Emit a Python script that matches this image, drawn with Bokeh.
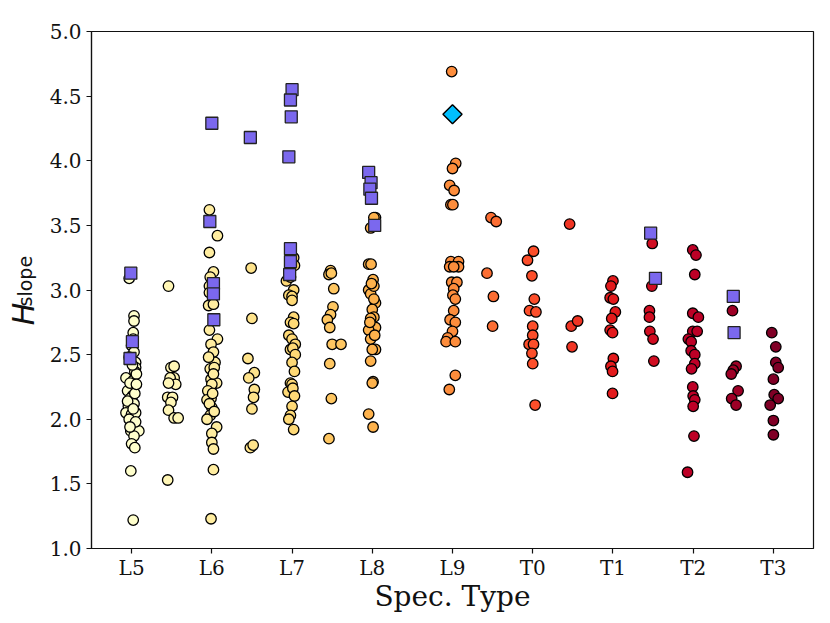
import numpy as np
from bokeh.plotting import figure
from bokeh.layouts import row
from bokeh.models import FixedTicker, PrintfTickFormatter, ColumnDataSource, Range1d
from bokeh.core.properties import value
from bokeh.embed import file_html
from bokeh.resources import INLINE

# ---------------- data ----------------
tick_pos = [0, 1, 2, 3, 4, 5, 6, 7, 8]
tick_labels = ["L5", "L6", "L7", "L8", "L9", "T0", "T1", "T2", "T3"]

# field objects (circles), x = spectral type (L5 = 0) with jitter, y = H_slope
l5_x = [-0.03, 0.03, 0.03, 0.02, 0.0, 0.03, 0.05, 0.05, 0.04, -0.07, 0.02, -0.01, -0.05, 0.01,
        -0.02, 0.03, -0.04, -0.07, 0.0, 0.05, 0.01, -0.01, 0.09, 0.03, 0.0, 0.04, -0.01, 0.02,
        0.02, -0.03, 0.06, -0.02, 0.04, -0.05, 0.02, -0.03, 0.05, -0.02, 0.01, 0.06]
l5_y = [3.09, 2.80, 2.76, 2.67, 2.57, 2.52, 2.44, 2.40, 2.37, 2.32, 2.30, 2.25, 2.22, 2.18,
        2.16, 2.12, 2.10, 2.05, 2.04, 2.05, 1.96, 1.91, 1.91, 1.87, 1.81, 1.78, 1.60, 1.22,
        2.62, 2.48, 2.35, 2.28, 2.20, 2.14, 2.08, 2.00, 1.98, 1.94, 2.42, 2.27]
l55_x = [0.46, 0.49, 0.53, 0.53, 0.48, 0.55, 0.46, 0.45, 0.51, 0.49, 0.46, 0.53, 0.58, 0.45]
l55_y = [3.03, 2.40, 2.41, 2.32, 2.32, 2.27, 2.28, 2.17, 2.17, 2.13, 2.07, 2.01, 2.01, 1.53]
l6_x = [0.97, 1.07, 0.97, 1.02, 0.98, 0.97, 0.97, 0.96, 1.02, 0.97, 1.07, 0.99, 1.02, 1.04,
        0.98, 1.03, 0.99, 1.06, 1.0, 0.95, 0.99, 0.94, 1.0, 0.98, 0.94, 1.06, 1.0, 1.0, 1.02,
        1.02, 0.99, 1.02, 0.97, 1.03, 0.96, 1.01]
l6_y = [3.62, 3.42, 3.29, 3.14, 3.10, 3.03, 2.98, 2.88, 2.89, 2.69, 2.62, 2.58, 2.52, 2.44,
        2.39, 2.40, 2.31, 2.28, 2.27, 2.22, 2.16, 2.15, 2.09, 2.03, 2.00, 1.94, 1.89, 1.82, 1.77,
        1.61, 1.23, 2.35, 2.12, 2.06, 2.48, 2.20]
l65_x = [1.49, 1.50, 1.45, 1.53, 1.46, 1.53, 1.52, 1.50, 1.48, 1.515]
l65_y = [3.17, 2.78, 2.47, 2.36, 2.32, 2.23, 2.17, 2.08, 1.78, 1.80]
l7_x = [2.02, 1.93, 2.02, 1.96, 2.0, 2.0, 2.02, 1.98, 2.02, 1.96, 2.0, 2.04, 1.98, 2.01, 2.04,
        2.0, 2.03, 1.98, 2.0, 1.95, 2.01, 2.03, 2.0, 1.98, 1.96, 2.02, 2.03, 1.98]
l7_y = [3.25, 3.07, 3.00, 2.96, 2.95, 2.92, 2.79, 2.75, 2.74, 2.65, 2.62, 2.58, 2.54, 2.55, 2.50,
        2.44, 2.37, 2.28, 2.27, 2.21, 2.24, 2.18, 2.10, 2.03, 2.00, 1.92, 3.19, 3.10]
l75_x = [2.48, 2.46, 2.49, 2.52, 2.51, 2.48, 2.44, 2.47, 2.50, 2.61, 2.47, 2.49, 2.46]
l75_y = [3.15, 3.12, 3.13, 3.01, 2.87, 2.81, 2.77, 2.71, 2.58, 2.58, 2.43, 2.16, 1.85]
l8_x = [3.04, 3.02, 2.98, 2.955, 2.985, 3.01, 2.955, 2.98, 3.02, 3.04, 3.0, 3.02, 2.98, 3.04,
        2.955, 2.98, 3.04, 3.0, 2.98, 3.01, 3.0, 2.955, 3.01, 3.02, 2.97, 3.03, 2.99]
l8_y = [3.56, 3.56, 3.48, 3.20, 3.20, 3.08, 3.00, 2.97, 3.03, 2.90, 2.85, 2.79, 2.78, 2.71,
        2.69, 2.62, 2.54, 2.54, 2.45, 2.29, 2.28, 2.04, 1.94, 2.93, 2.75, 2.65, 3.05]
l9_x = [3.99, 4.04, 4.0, 3.965, 4.02, 3.98, 4.005, 3.98, 4.075, 3.965, 4.075, 4.015, 3.99, 4.055,
        4.015, 4.005, 4.035, 4.015, 3.97, 4.035, 4.0, 3.94, 3.92, 4.035, 4.035, 3.96]
l9_y = [4.69, 3.98, 3.94, 3.81, 3.77, 3.66, 3.66, 3.22, 3.22, 3.18, 3.18, 3.18, 3.06, 3.06,
        3.01, 2.96, 2.93, 2.84, 2.77, 2.75, 2.68, 2.63, 2.60, 2.60, 2.34, 2.23]
l95_x = [4.48, 4.545, 4.43, 4.51, 4.50]
l95_y = [3.56, 3.53, 3.13, 2.95, 2.72]
t0_x = [5.01, 4.935, 4.99, 5.02, 4.96, 5.04, 5.0, 5.0, 4.955, 5.01, 4.99, 5.0, 5.03]
t0_y = [3.30, 3.23, 3.11, 2.93, 2.84, 2.83, 2.72, 2.65, 2.58, 2.58, 2.51, 2.43, 2.11]
t05_x = [5.46, 5.48, 5.56, 5.49]
t05_y = [3.51, 2.72, 2.76, 2.56]
t1_x = [6.0, 5.975, 5.965, 6.005, 6.03, 5.985, 5.965, 5.995, 6.005, 5.975, 5.995, 5.995]
t1_y = [3.07, 3.03, 2.94, 2.93, 2.83, 2.78, 2.69, 2.67, 2.47, 2.41, 2.37, 2.20]
t15_x = [6.49, 6.485, 6.455, 6.455, 6.46, 6.50, 6.51]
t15_y = [3.36, 3.03, 2.84, 2.79, 2.68, 2.62, 2.45]
t2_x = [6.995, 7.035, 7.02, 6.995, 7.065, 6.995, 7.05, 6.94, 6.975, 6.975, 7.02, 7.02, 6.98,
        6.995, 7.0, 7.02, 7.0, 7.01, 6.93]
t2_y = [3.31, 3.27, 3.12, 2.82, 2.79, 2.68, 2.68, 2.62, 2.60, 2.53, 2.50, 2.43, 2.39,
        2.25, 2.18, 2.15, 2.10, 1.87, 1.59]
t25_x = [7.49, 7.535, 7.50, 7.475, 7.56, 7.48, 7.535]
t25_y = [2.84, 2.41, 2.38, 2.35, 2.22, 2.16, 2.11]
t3_x = [7.98, 8.03, 8.03, 8.06, 8.0, 8.01, 8.06, 7.96, 8.0, 8.0]
t3_y = [2.67, 2.56, 2.44, 2.40, 2.31, 2.19, 2.16, 2.11, 1.99, 1.88]

# special objects (squares)
sq_x = [-0.01, 0.01, -0.02, 1.0, 0.975, 1.02, 1.02, 1.025, 1.48, 2.0, 1.98, 1.99, 1.96, 1.98,
        1.98, 1.97, 2.955, 2.985, 2.97, 2.99, 3.03, 6.47, 6.53, 7.50, 7.51]
sq_y = [3.13, 2.60, 2.47, 4.29, 3.53, 3.05, 2.97, 2.77, 4.18, 4.55, 4.47, 4.34, 4.03, 3.32,
        3.22, 3.12, 3.91, 3.83, 3.78, 3.71, 3.50, 3.44, 3.09, 2.95, 2.67]

# single highlighted object (diamond)
dm_x = [4.0]
dm_y = [4.36]

# ---------------- colours ----------------
ylorrd = ['#ffffcc', '#ffeda0', '#fed976', '#feb24c', '#fd8d3c',
          '#fc4e2a', '#e31a1c', '#bd0026', '#800026']


def hex2rgb(h):
    return np.array([int(h[i:i + 2], 16) for i in (1, 3, 5)], dtype=float)


def cmap(t):
    t = min(max(t, 0.0), 1.0) * (len(ylorrd) - 1)
    i = int(np.floor(t))
    if i >= len(ylorrd) - 1:
        return ylorrd[-1]
    f = t - i
    c = hex2rgb(ylorrd[i]) * (1 - f) + hex2rgb(ylorrd[i + 1]) * f
    return '#%02x%02x%02x' % tuple(int(round(v)) for v in c)


groups_x = [l5_x, l55_x, l6_x, l65_x, l7_x, l75_x, l8_x, l9_x, l95_x, t0_x, t05_x, t1_x, t15_x,
            t2_x, t25_x, t3_x]
groups_y = [l5_y, l55_y, l6_y, l65_y, l7_y, l75_y, l8_y, l9_y, l95_y, t0_y, t05_y, t1_y, t15_y,
            t2_y, t25_y, t3_y]

cx, cy, cc = [], [], []
for gx, gy in zip(groups_x, groups_y):
    for xv, yv in zip(gx, gy):
        nominal = round(xv * 2) / 2.0
        cx.append(xv)
        cy.append(yv)
        cc.append(cmap(nominal / 8.0))

# ---------------- layout constants ----------------
TOTAL_H = 615
LEFT_W = 42
FRAME_LEFT = 91
FRAME_TOP = 31
FRAME_W = 722
FRAME_H = 517

# ---------------- main figure ----------------
p = figure(frame_width=FRAME_W, frame_height=FRAME_H, x_range=(-0.5, 8.5), y_range=(1.0, 5.0),
           output_backend="svg", toolbar_location=None,
           min_border_left=FRAME_LEFT - LEFT_W, min_border_top=FRAME_TOP,
           min_border_right=10, min_border_bottom=TOTAL_H - FRAME_TOP - FRAME_H)

p.background_fill_color = "white"
p.border_fill_color = "white"
p.outline_line_color = "#111111"
p.outline_line_width = 1.2
p.xgrid.visible = False
p.ygrid.visible = False

src = ColumnDataSource(dict(x=cx, y=cy, c=cc))
p.scatter('x', 'y', source=src, marker="circle", size=10.5, fill_color='c',
          line_color="black", line_width=1.3)
p.scatter(sq_x, sq_y, marker="square", size=12, fill_color="#7b68ee",
          line_color="#222222", line_width=1.3)
p.scatter(dm_x, dm_y, marker="square", angle=np.pi / 4, size=13.5, fill_color="#00bfff",
          line_color="black", line_width=1.5)

font = "DejaVu Serif"
for ax in (p.xaxis[0], p.yaxis[0]):
    ax.axis_line_color = "#111111"
    ax.axis_line_width = 1.2
    ax.major_tick_line_color = "#111111"
    ax.major_tick_line_width = 1.2
    ax.major_tick_out = 5
    ax.major_tick_in = 0
    ax.minor_tick_line_color = None
    ax.major_label_text_font = font
    ax.major_label_text_font_size = "20px"
    ax.major_label_text_color = "#111111"

p.xaxis.ticker = FixedTicker(ticks=tick_pos)
p.xaxis.major_label_overrides = {t: l for t, l in zip(tick_pos, tick_labels)}
p.xaxis.major_label_standoff = 2
p.xaxis.axis_label = "Spec. Type"
p.xaxis.axis_label_text_font = font
p.xaxis.axis_label_text_font_size = "28px"
p.xaxis.axis_label_text_font_style = "normal"
p.xaxis.axis_label_text_color = "#111111"
p.xaxis.axis_label_standoff = -3

p.yaxis.ticker = FixedTicker(ticks=[1.0, 1.5, 2.0, 2.5, 3.0, 3.5, 4.0, 4.5, 5.0])
p.yaxis.formatter = PrintfTickFormatter(format="%.1f")
p.yaxis.major_label_standoff = 5

# ---------------- y-axis label panel (H_slope) ----------------
lab = figure(width=LEFT_W, height=TOTAL_H, x_range=Range1d(0, LEFT_W), y_range=Range1d(0, TOTAL_H),
             output_backend="svg", toolbar_location=None,
             min_border_left=0, min_border_right=0, min_border_top=0, min_border_bottom=0)
lab.axis.visible = False
lab.grid.visible = False
lab.outline_line_color = None
lab.background_fill_color = "white"
lab.border_fill_color = "white"

lab.text(x=[22.5], y=[TOTAL_H - 336], text=["H"], angle=np.pi / 2,
         text_font=value("DejaVu Sans"), text_font_style="italic", text_font_size="30px",
         text_color="#111111", text_align="center", text_baseline="middle")
lab.text(x=[24], y=[TOTAL_H - 297], text=["slope"], angle=np.pi / 2,
         text_font=value("DejaVu Sans"), text_font_size="19px",
         text_color="#111111", text_align="center", text_baseline="middle")

layout = row(lab, p, spacing=0)
open("out.html", "w").write(file_html(layout, INLINE))
